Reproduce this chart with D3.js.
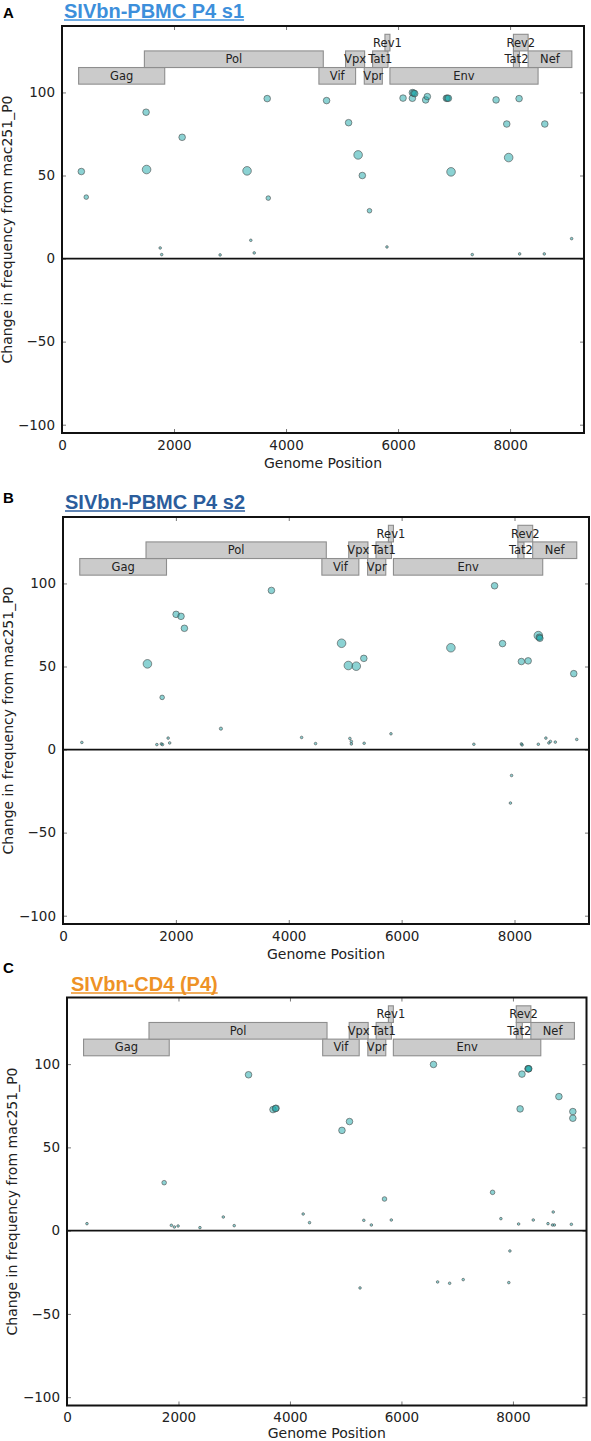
<!DOCTYPE html>
<html>
<head>
<meta charset="utf-8">
<script src="https://cdn.jsdelivr.net/npm/d3@7"></script>
<style>
  body { margin: 0; background: #fff; }
  text { font-family: "DejaVu Sans", sans-serif; }
</style>
</head>
<body>
<div id="chart"></div>
<script>
// genes: name, start, end, lower and upper value of the band
const genes = [
  ["Gag", 297, 1834, 105, 115],
  ["Pol", 1471, 4665, 115, 125],
  ["Vif", 4587, 5242, 105, 115],
  ["Vpx", 5063, 5403, 115, 125],
  ["Vpr", 5397, 5719, 105, 115],
  ["Tat1", 5546, 5820, 115, 125],
  ["Rev1", 5766, 5855, 125, 135],
  ["Env", 5855, 8500, 105, 115],
  ["Tat2", 8060, 8168, 115, 125],
  ["Rev2", 8060, 8322, 125, 135],
  ["Nef", 8322, 9103, 115, 125]
]

const xTicks = [0, 2000, 4000, 6000, 8000]
const yTicks = [-100, -50, 0, 50, 100]

// points: genome position, change in frequency, depth class (1 = low ... 4 = high)
const s1Points = [
  [345, 52.4, 3], [433, 37, 2], [1501, 88.1, 3], [1510, 53.6, 4], [2145, 73, 3],
  [3304, 52.8, 4], [3664, 96.3, 3], [3683, 36.4, 2], [4724, 95.1, 3], [5117, 81.8, 3],
  [5287, 62.4, 4], [5362, 50, 3], [5490, 28.8, 2], [6089, 96.6, 3], [6256, 96.5, 3],
  [6256, 99.9, 3], [6280, 99.6, 3], [6297, 99.3, 3], [6493, 95.5, 3], [6523, 97.5, 3],
  [6863, 96.5, 3], [6880, 96.5, 3], [6899, 96.5, 3], [6946, 52.2, 4], [7750, 95.5, 3],
  [7941, 81, 3], [7975, 60.8, 4], [8161, 96.3, 3], [8620, 81, 3],
  [1753, 6.4, 1], [1780, 2.4, 1], [2823, 2.2, 1], [3371, 11, 1], [3432, 3.4, 1],
  [5802, 7, 1], [7325, 2.4, 1], [8171, 2.8, 1], [8611, 2.8, 1], [9099, 12, 1]
]

const s2Points = [
  [3693, 95.8, 3], [7647, 98.6, 3], [2004, 81.4, 3], [2091, 80.2, 3], [2151, 73, 3],
  [1496, 51.6, 4], [1757, 31.4, 2], [4936, 64, 4], [5056, 50.6, 4], [5196, 50.2, 4],
  [5330, 54.9, 3], [6873, 61.3, 4], [7788, 63.8, 3], [8122, 53, 3], [8242, 53.4, 3],
  [8422, 68.6, 4], [8440, 67.6, 3], [8449, 67, 3], [9050, 45.7, 3],
  [334, 4.3, 1], [1663, 3, 1], [1743, 3.4, 1], [1763, 3, 1], [1863, 6.9, 1],
  [1890, 4, 1], [2798, 12.6, 1.3], [4228, 7.3, 1], [4475, 3.6, 1], [5083, 6.7, 1],
  [5109, 4.9, 1], [5109, 3.4, 1], [5336, 3.8, 1], [5811, 9.5, 1], [7280, 3.2, 1],
  [8122, 3.4, 1], [8135, 2.8, 1], [8422, 3.2, 1], [8556, 6.9, 1], [8609, 4, 1],
  [8636, 4.9, 1], [8723, 4.5, 1], [9103, 6.1, 1], [7948, -15.6, 1], [7928, -32.2, 1]
]

const cd4Points = [
  [3257, 93.6, 3], [3696, 72.7, 3], [3750, 73.5, 3], [3740, 73.3, 3], [4933, 60.2, 3],
  [5068, 65.5, 3], [6575, 99.8, 3], [8162, 94, 3], [8271, 97.2, 3], [8278, 97.2, 3],
  [8284, 97.2, 3], [8129, 73.1, 3], [8825, 80.5, 3], [9075, 71.5, 3], [9075, 67.5, 3],
  [1743, 28.8, 2], [5696, 19, 2], [7635, 23, 2],
  [358, 4.2, 1], [1872, 3.2, 1], [1926, 2.2, 1], [1993, 2.8, 1], [2385, 1.8, 1],
  [2804, 8.2, 1], [3000, 3, 1], [4237, 10, 1], [4351, 4.8, 1], [5325, 6.2, 1],
  [5460, 3.4, 1], [5818, 6.4, 1], [7784, 7.2, 1], [8102, 4, 1], [8365, 6.4, 1],
  [8629, 4.2, 1], [8723, 11.2, 1], [8710, 3.4, 1], [8743, 3.4, 1], [9048, 3.8, 1],
  [5257, -34.4, 1], [6649, -30.8, 1], [6865, -31.6, 1], [7108, -29.4, 1],
  [7946, -12.2, 1], [7926, -31.2, 1]
]

const panels = [
  {letter: "A", title: "SIVbn-PBMC P4 s1", color: "#3d8fdb", points: s1Points,
   left: 62, right: 584, top: 26, bottom: 433, letterY: 18, titleX: 64, titleY: 18, labelGap: 35},
  {letter: "B", title: "SIVbn-PBMC P4 s2", color: "#2b5d9c", points: s2Points,
   left: 63, right: 589, top: 517, bottom: 924, letterY: 503, titleX: 65, titleY: 509, labelGap: 35},
  {letter: "C", title: "SIVbn-CD4 (P4)", color: "#ee9226", points: cd4Points,
   left: 67, right: 586.5, top: 997.5, bottom: 1405.5, letterY: 973, titleX: 71, titleY: 991, labelGap: 32}
]

const svg = d3.select("#chart")
  .append("svg")
  .attr("width", 591)
  .attr("height", 1441)

const radius = d3.scaleLinear().domain([1, 4]).range([1.3, 4.3])

panels.forEach(function(p) {
  const x = d3.scaleLinear().domain([0, 9320]).range([p.left, p.right])
  const y = d3.scaleLinear().domain([-105, 140]).range([p.bottom, p.top])

  // panel letter and underlined title
  svg.append("text")
    .attr("x", 3).attr("y", p.letterY)
    .style("font-family", "'Liberation Sans', Arial, sans-serif")
    .style("font-weight", "bold").style("font-size", "15px")
    .text(p.letter)
  const t = svg.append("text")
    .attr("x", p.titleX).attr("y", p.titleY)
    .style("font-family", "'Liberation Sans', Arial, sans-serif")
    .style("font-weight", "bold").style("font-size", "20px")
    .attr("fill", p.color)
    .text(p.title)
  const tw = t.node().getComputedTextLength()
  svg.append("line")
    .attr("x1", p.titleX).attr("x2", p.titleX + tw)
    .attr("y1", p.titleY + 2).attr("y2", p.titleY + 2)
    .attr("stroke", p.color).attr("stroke-width", 1.6)

  // axes with inward ticks on all four sides
  svg.append("g")
    .attr("transform", `translate(0,${p.bottom})`)
    .call(d3.axisBottom(x).tickValues(xTicks).tickSizeInner(-4).tickSizeOuter(0).tickPadding(7).tickFormat(d3.format("d")))
  svg.append("g")
    .attr("transform", `translate(0,${p.top})`)
    .call(d3.axisTop(x).tickValues(xTicks).tickSizeInner(-4).tickSizeOuter(0).tickFormat(""))
  svg.append("g")
    .attr("transform", `translate(${p.left},0)`)
    .call(d3.axisLeft(y).tickValues(yTicks).tickSizeInner(-4).tickSizeOuter(0).tickPadding(7).tickFormat(d => d < 0 ? "\u2212" + Math.abs(d) : d))
  svg.append("g")
    .attr("transform", `translate(${p.right},0)`)
    .call(d3.axisRight(y).tickValues(yTicks).tickSizeInner(-4).tickSizeOuter(0).tickFormat(""))

  svg.selectAll(".domain").remove()
  svg.selectAll(".tick line").attr("stroke", "#555").attr("stroke-width", 0.8)
  svg.selectAll(".tick text")
    .style("font-family", "'DejaVu Sans', sans-serif")
    .style("font-size", "13.5px").attr("fill", "#222")

  // zero line
  svg.append("line")
    .attr("x1", p.left).attr("x2", p.right)
    .attr("y1", y(0)).attr("y2", y(0))
    .attr("stroke", "#111").attr("stroke-width", 1.8)

  // gene map
  const g = svg.append("g")
  g.selectAll("rect")
    .data(genes)
    .join("rect")
      .attr("x", d => x(d[1]))
      .attr("y", d => y(d[4]))
      .attr("width", d => x(d[2]) - x(d[1]))
      .attr("height", d => y(d[3]) - y(d[4]))
      .attr("fill", "#cbcbcb")
      .attr("stroke", "#8e8e8e")
      .attr("stroke-width", 1.1)
  g.selectAll("text")
    .data(genes)
    .join("text")
      .attr("x", d => x((d[1] + d[2]) / 2))
      .attr("y", d => y((d[3] + d[4]) / 2))
      .attr("text-anchor", "middle")
      .attr("dominant-baseline", "central")
      .style("font-size", "11.5px")
      .attr("fill", "#222")
      .text(d => d[0])

  // points
  svg.append("g")
    .selectAll("circle")
    .data(p.points)
    .join("circle")
      .attr("cx", d => x(d[0]))
      .attr("cy", d => y(d[1]))
      .attr("r", d => radius(d[2]))
      .attr("fill", "#17a5a8")
      .attr("fill-opacity", 0.5)
      .attr("stroke", "#4a4a4a")
      .attr("stroke-opacity", 0.6)
      .attr("stroke-width", 1)

  // frame
  svg.append("rect")
    .attr("x", p.left).attr("y", p.top)
    .attr("width", p.right - p.left).attr("height", p.bottom - p.top)
    .attr("fill", "none").attr("stroke", "#111").attr("stroke-width", 2)

  // axis labels
  svg.append("text")
    .attr("x", (p.left + p.right) / 2).attr("y", p.bottom + p.labelGap)
    .attr("text-anchor", "middle")
    .style("font-size", "14px").attr("fill", "#222")
    .text("Genome Position")
  svg.append("text")
    .attr("transform", `translate(${p.left - 50},${(p.top + p.bottom) / 2}) rotate(-90)`)
    .attr("text-anchor", "middle")
    .style("font-size", "14px").attr("fill", "#222")
    .text("Change in frequency from mac251_P0")
})
</script>
</body>
</html>
